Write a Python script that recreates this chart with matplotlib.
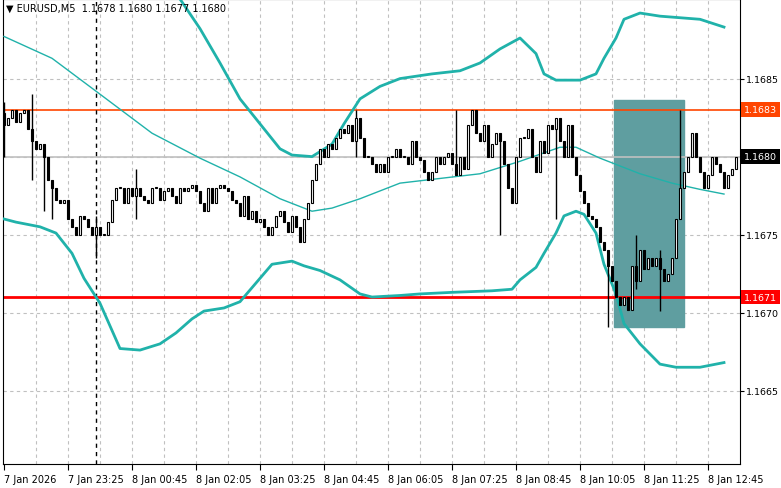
import matplotlib
matplotlib.use("Agg")
import matplotlib.pyplot as plt
import matplotlib.transforms as mtransforms
import numpy as np

# precios en unidades de 0.00001 sobre 1.1670
base = 1.1670
apertura0 = 128
cierres = [120, 125, 130, 122, 128, 130, 118, 110, 105, 108, 100, 85, 80, 72, 70, 72,
           60, 55, 50, 62, 60, 55, 50, 55, 50, 50, 58, 72, 80, 80, 70, 80, 75, 80,
           75, 72, 70, 80, 80, 72, 78, 80, 75, 70, 80, 78, 80, 82, 78, 70, 65, 80,
           70, 80, 82, 80, 78, 72, 70, 62, 75, 60, 65, 58, 60, 55, 50, 55, 62, 65,
           58, 52, 62, 55, 45, 60, 70, 85, 95, 105, 100, 108, 105, 112, 118, 115,
           120, 110, 125, 112, 100, 100, 95, 90, 95, 90, 100, 100, 105, 100, 100, 95,
           110, 100, 98, 90, 85, 90, 100, 95, 100, 102, 95, 88, 100, 92, 120, 130,
           115, 110, 120, 100, 108, 115, 110, 95, 80, 70, 100, 112, 112, 118, 100,
           90, 110, 102, 120, 118, 125, 110, 100, 120, 100, 88, 78, 70, 62, 60, 55,
           45, 40, 30, 20, 10, 5, 10, 2, 30, 20, 40, 28, 35, 30, 35, 28, 20, 25, 35,
           60, 80, 90, 100, 115, 100, 90, 80, 88, 100, 95, 90, 80, 88, 92, 100]
mechas = {0: (135, 100), 7: (140, 85), 10: (108, 65), 12: (85, 60), 23: (62, 35),
          33: (92, 60), 88: (130, 100), 113: (130, 92), 124: (112, 50), 138: (100, 60),
          151: (30, -9), 158: (50, 15), 164: (40, 1), 169: (130, 95)}

# bandas de Bollinger (índice de barra, precio)
sup_i = [40, 44, 49, 54, 59, 64, 69, 72, 77, 82, 85, 89, 94, 99, 107, 114, 119, 124,
         129, 133, 135, 138, 144, 148, 150, 153, 155, 159, 164, 174, 180]
sup_v = [215, 201, 182, 160, 137, 121, 105, 101, 100, 108, 121, 137, 145, 150, 153,
         155, 160, 169, 176, 166, 153, 149, 149, 153, 163, 176, 188, 192, 190, 188, 183]
inf_i = [0, 3, 5, 9, 13, 17, 20, 24, 29, 34, 39, 43, 47, 50, 55, 59, 63, 67, 72, 75,
         79, 84, 89, 92, 99, 104, 112, 122, 127, 129, 133, 135, 138, 140, 143, 145,
         148, 150, 153, 155, 159, 164, 168, 174, 180]
inf_v = [60, 58, 57, 55, 51, 38, 22, 6, -23, -24, -20, -13, -4, 1, 3, 7, 19, 31, 33,
         30, 27, 21, 12, 10, 11, 12, 13, 14, 15, 21, 29, 38, 51, 62, 65, 63, 51, 31,
         12, -7, -20, -33, -35, -35, -32]
mid_i = [0, 12, 24, 37, 49, 59, 69, 77, 82, 89, 99, 109, 119, 129, 139, 143, 149,
         159, 167, 174, 180]
mid_v = [177, 163, 140, 115, 99, 87, 73, 65, 67, 73, 83, 86, 89, 97, 106, 106, 99,
         89, 83, 79, 76]

etiquetas_x = ["7 Jan 2026", "7 Jan 23:25", "8 Jan 00:45", "8 Jan 02:05", "8 Jan 03:25",
               "8 Jan 04:45", "8 Jan 06:05", "8 Jan 07:25", "8 Jan 08:45", "8 Jan 10:05",
               "8 Jan 11:25", "8 Jan 12:45"]
precios_y = [1.1665, 1.1670, 1.1675, 1.1685]

c = np.array(cierres, dtype=float)
o = np.concatenate([[apertura0], c[:-1]])
hi = np.maximum(o, c)
lo = np.minimum(o, c)
for k, (h, l) in mechas.items():
    hi[k], lo[k] = max(hi[k], h), min(lo[k], l)
c, o, hi, lo = [base + a * 1e-5 for a in (c, o, hi, lo)]
pr = lambda v: base + np.array(v) * 1e-5

fig = plt.figure(figsize=(7.81, 4.89), dpi=100)
ax = fig.add_axes([3 / 781, 24 / 489, 737 / 781, 465 / 489])
x = np.arange(len(c))
ax.set_xlim(-0.25, 184.0)
ax.set_ylim(1.16603, 1.16901)

for t in np.arange(8, 184, 8):
    ax.axvline(t, color="#c0c0c0", ls=(0, (3, 3)), lw=0.8, zorder=0)
for p in np.arange(1.1665, 1.1690, 0.0005):
    ax.axhline(p, color="#c0c0c0", ls=(0, (3, 3)), lw=0.8, zorder=0)

ax.add_patch(plt.Rectangle((152.5, base - 9e-5), 17.5, 145e-5, color="#5f9ea0", zorder=1))
ax.axhline(1.1680, color="#c0c0c0", lw=1.2, zorder=1)
ax.axhline(1.1683, color="#ff4500", lw=1.2, zorder=2)
ax.axhline(1.1671, color="#ff0000", lw=2, zorder=2)
ax.axvline(23, color="black", ls=(0, (3, 3)), lw=1, zorder=2)

ax.plot(sup_i, pr(sup_v), color="#20b2aa", lw=2, zorder=3)
ax.plot(inf_i, pr(inf_v), color="#20b2aa", lw=2, zorder=3)
ax.plot(mid_i, pr(mid_v), color="#20b2aa", lw=1, zorder=3)

ax.vlines(x, lo, hi, color="black", lw=1, zorder=4)
alcista = c >= o
ax.bar(x, np.maximum(np.abs(c - o), 0.3e-5), bottom=np.minimum(o, c), width=0.7,
       color=np.where(alcista, "white", "black"), edgecolor="black", lw=0.8, zorder=5)

ax.set_xticks(np.arange(0, 184, 16))
ax.set_xticklabels(etiquetas_x, fontsize=7, ha="left")
ax.tick_params(axis="x", length=4, pad=3)
ax.yaxis.tick_right()
ax.set_yticks(precios_y)
ax.set_yticklabels(["%.4f" % p for p in precios_y], fontsize=6.8)
ax.tick_params(axis="y", length=3, pad=1.5)
for s in ax.spines.values():
    s.set_color("black")

tr = mtransforms.blended_transform_factory(ax.transAxes, ax.transData)
for p, col in [(1.1683, "#ff4500"), (1.1680, "black"), (1.1671, "#ff0000")]:
    ax.text(1.005, p, "%.4f" % p, transform=tr, fontsize=6.8, color="white", va="center",
            bbox=dict(boxstyle="square,pad=0.3", fc=col, ec="none"))

ax.text(0.004, 0.992, "\u25bc EURUSD,M5  1.1678 1.1680 1.1677 1.1680", transform=ax.transAxes,
        fontsize=7, va="top", ha="left")

fig.savefig("out.png")
